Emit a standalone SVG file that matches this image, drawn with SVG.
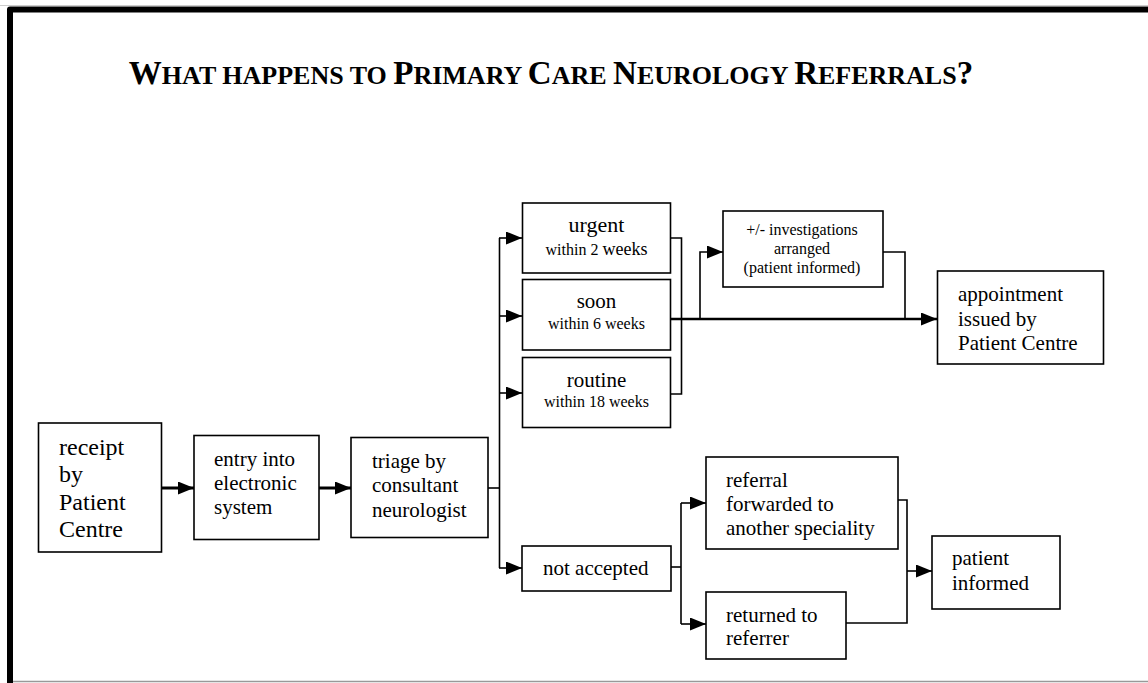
<svg xmlns="http://www.w3.org/2000/svg" width="1148" height="683" viewBox="0 0 1148 683">
<defs>
<style>
.box{fill:#fff;stroke:#000;stroke-width:1.6}
.t{font-family:"Liberation Serif","Times New Roman",serif;fill:#000}
.c{fill:none;stroke:#000;stroke-width:1.6}
.thick{stroke-width:3}
.main{stroke-width:2.6}
.ttl{font-family:"Liberation Serif","Times New Roman",serif;font-weight:bold;fill:#000}
</style>
<marker id="ah" markerUnits="userSpaceOnUse" markerWidth="16" markerHeight="13" refX="16" refY="6.5" orient="auto">
<path d="M0,0 L16,6.5 L0,13 z" fill="#000"/>
</marker>
</defs>
<rect width="1148" height="683" fill="#fff"/>
<g id="frame">
<line x1="0" y1="5.5" x2="1148" y2="5.5" stroke="#ccc" stroke-width="1"/>
<path d="M10,683 V9.5 H1148" fill="none" stroke="#000" stroke-width="6" stroke-linejoin="round"/>
<line x1="13" y1="681.5" x2="1148" y2="681.5" stroke="#999" stroke-width="1.5"/>
</g>
<g id="title">
<text class="ttl" font-family="Liberation Serif, Times New Roman, serif" x="551" y="84" text-anchor="middle"><tspan font-size="33">W</tspan><tspan font-size="26">HAT HAPPENS TO </tspan><tspan font-size="33">P</tspan><tspan font-size="26">RIMARY </tspan><tspan font-size="33">C</tspan><tspan font-size="26">ARE </tspan><tspan font-size="33">N</tspan><tspan font-size="26">EUROLOGY </tspan><tspan font-size="33">R</tspan><tspan font-size="26">EFERRALS</tspan><tspan font-size="33">?</tspan></text>
</g>
<g id="connectors">
<path class="c thick" d="M162,488 H194" marker-end="url(#ah)"/>
<path class="c thick" d="M319,488 H351" marker-end="url(#ah)"/>
<path class="c" d="M488,488 H499.5"/>
<path class="c" d="M499.5,238 V568"/>
<path class="c" d="M499,238 H522" marker-end="url(#ah)"/>
<path class="c" d="M499,316 H522" marker-end="url(#ah)"/>
<path class="c" d="M499,393 H522" marker-end="url(#ah)"/>
<path class="c" d="M499,568 H522" marker-end="url(#ah)"/>
<path class="c" d="M671,238 H681.5 V394 H671"/>
<path class="c main" d="M671,319 H937" marker-end="url(#ah)"/>
<path class="c" d="M700,319 V252 H723" marker-end="url(#ah)"/>
<path class="c" d="M883,252 H905 V319"/>
<path class="c" d="M671,567 H681"/>
<path class="c" d="M681,503 V624"/>
<path class="c" d="M681,503 H706" marker-end="url(#ah)"/>
<path class="c" d="M681,624 H706" marker-end="url(#ah)"/>
<path class="c" d="M898,500 H907 V623 H846"/>
<path class="c" d="M907,571 H932" marker-end="url(#ah)"/>
</g>
<g id="receipt">
<rect class="box" x="38.5" y="423" width="123" height="129"/>
<text class="t" font-family="Liberation Serif, Times New Roman, serif" font-size="24"><tspan x="59" y="455">receipt</tspan><tspan x="59" y="482">by</tspan><tspan x="59" y="510">Patient</tspan><tspan x="59" y="537">Centre</tspan></text>
</g>
<g id="entry">
<rect class="box" x="194" y="435.5" width="125" height="104"/>
<text class="t" font-family="Liberation Serif, Times New Roman, serif" font-size="21"><tspan x="214" y="466">entry into</tspan><tspan x="214" y="490">electronic</tspan><tspan x="214" y="514">system</tspan></text>
</g>
<g id="triage">
<rect class="box" x="351" y="437.5" width="137" height="100"/>
<text class="t" font-family="Liberation Serif, Times New Roman, serif" font-size="21"><tspan x="372" y="468">triage by</tspan><tspan x="372" y="492">consultant</tspan><tspan x="372" y="517">neurologist</tspan></text>
</g>
<g id="urgent">
<rect class="box" x="522.5" y="203" width="148" height="70"/>
<text class="t" font-family="Liberation Serif, Times New Roman, serif" font-size="22" x="596.5" y="232" text-anchor="middle">urgent</text>
<text class="t" font-family="Liberation Serif, Times New Roman, serif" x="596.5" y="255" text-anchor="middle"><tspan font-size="16">within 2 </tspan><tspan font-size="18">weeks</tspan></text>
</g>
<g id="soon">
<rect class="box" x="522.5" y="279.5" width="148" height="70.5"/>
<text class="t" font-family="Liberation Serif, Times New Roman, serif" font-size="21" x="596.5" y="308" text-anchor="middle">soon</text>
<text class="t" font-family="Liberation Serif, Times New Roman, serif" font-size="16" x="596.5" y="329" text-anchor="middle">within 6 weeks</text>
</g>
<g id="routine">
<rect class="box" x="522.5" y="357.5" width="148" height="70"/>
<text class="t" font-family="Liberation Serif, Times New Roman, serif" font-size="21" x="596.5" y="387" text-anchor="middle">routine</text>
<text class="t" font-family="Liberation Serif, Times New Roman, serif" font-size="16" x="596.5" y="407" text-anchor="middle">within 18 weeks</text>
</g>
<g id="investigations">
<rect class="box" x="723" y="211" width="160" height="76"/>
<text class="t" font-family="Liberation Serif, Times New Roman, serif" font-size="16" text-anchor="middle"><tspan x="802" y="235">+/- investigations</tspan><tspan x="802" y="254">arranged</tspan><tspan x="802" y="273">(patient informed)</tspan></text>
</g>
<g id="appointment">
<rect class="box" x="937.5" y="271" width="166" height="93"/>
<text class="t" font-family="Liberation Serif, Times New Roman, serif" font-size="21"><tspan x="958" y="301">appointment</tspan><tspan x="958" y="326">issued by</tspan><tspan x="958" y="350">Patient Centre</tspan></text>
</g>
<g id="not-accepted">
<rect class="box" x="522" y="546" width="149" height="45"/>
<text class="t" font-family="Liberation Serif, Times New Roman, serif" font-size="21" x="543" y="575">not accepted</text>
</g>
<g id="referral">
<rect class="box" x="706" y="457" width="192" height="92"/>
<text class="t" font-family="Liberation Serif, Times New Roman, serif" font-size="21"><tspan x="726" y="487">referral</tspan><tspan x="726" y="511">forwarded to</tspan><tspan x="726" y="535">another speciality</tspan></text>
</g>
<g id="returned">
<rect class="box" x="706" y="592" width="140" height="67"/>
<text class="t" font-family="Liberation Serif, Times New Roman, serif" font-size="21"><tspan x="726" y="622">returned to</tspan><tspan x="726" y="645">referrer</tspan></text>
</g>
<g id="patient-informed">
<rect class="box" x="932" y="536" width="128" height="73"/>
<text class="t" font-family="Liberation Serif, Times New Roman, serif" font-size="21"><tspan x="952" y="565">patient</tspan><tspan x="952" y="590">informed</tspan></text>
</g>
</svg>
